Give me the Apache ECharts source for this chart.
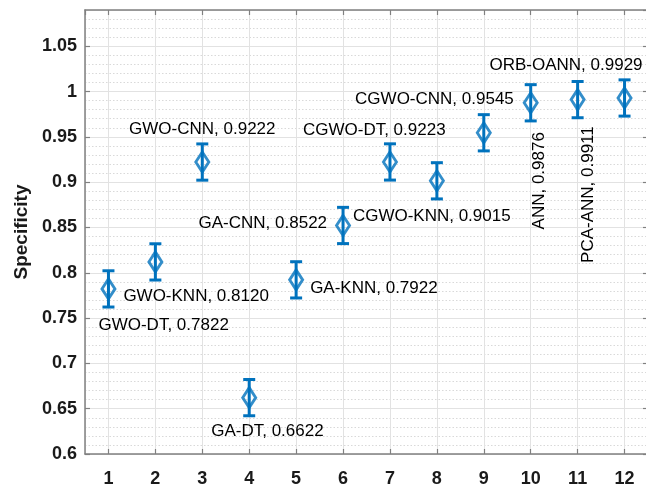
<!DOCTYPE html>
<html><head><meta charset="utf-8">
<script src="https://cdn.jsdelivr.net/npm/echarts@6/dist/echarts.min.js"></script>
<style>html,body{margin:0;padding:0;background:#fff}#c{width:646px;height:487px}</style>
</head><body><div id="c"></div>
<script>
// ---- data ----
const xPositions = [1, 2, 3, 4, 5, 6, 7, 8, 9, 10, 11, 12];
const methodNames = ['GWO-DT', 'GWO-KNN', 'GWO-CNN', 'GA-DT', 'GA-KNN', 'GA-CNN',
  'CGWO-DT', 'CGWO-KNN', 'CGWO-CNN', 'ANN', 'PCA-ANN', 'ORB-OANN'];
const specificity = [0.7822, 0.8120, 0.9222, 0.6622, 0.7922, 0.8522,
  0.9223, 0.9015, 0.9545, 0.9876, 0.9911, 0.9929];
const errorHalf = [0.02, 0.02, 0.02, 0.02, 0.02, 0.02, 0.02, 0.02, 0.02, 0.02, 0.02, 0.02];
const yTickMin = 0.6, yTickMax = 1.09, yTickStep = 0.05, yMinorStep = 0.01;
const xMin = 0.5, xMax = 12.5;

// ---- label placement (style only) ----
const labelLayout = [
  { align: 'left', offset: [-10, 36] },
  { align: 'left', offset: [-32, 34] },
  { align: 'center', offset: [0, -33] },
  { align: 'left', offset: [-38, 34] },
  { align: 'left', offset: [14, 8] },
  { align: 'right', offset: [-16, -2] },
  { align: 'left', offset: [-87, -32] },
  { align: 'left', offset: [-84, 36] },
  { align: 'right', offset: [30, -33] },
  { align: 'center', rotate: 90, offset: [-78, 9] },
  { align: 'center', rotate: 90, offset: [-95, 11] },
  { align: 'right', offset: [18, -33] }
];

const BLUE = '#0072BD';
const AXIS = '#808080';
const TXT = '#1a1a1a';
const FONT = '"Liberation Sans", Arial, Helvetica, sans-serif';

const chart = echarts.init(document.getElementById('c'), null, { renderer: 'canvas' });

const baseX = {
  type: 'value', min: xMin, max: xMax, splitNumber: 12
};
const option = {
  backgroundColor: '#fff',
  animation: false,
  grid: { left: 85, right: -2, top: 10, bottom: 33, outerBoundsMode: 'none', containLabel: false },
  xAxis: [
    Object.assign({}, baseX, {
      position: 'bottom',
      axisLine: { show: true, onZero: false, lineStyle: { color: AXIS, width: 1.5 } },
      axisTick: { show: true, inside: true, length: 5, lineStyle: { color: AXIS, width: 1.2 } },
      axisLabel: { showMinLabel: false, showMaxLabel: false, fontSize: 18, fontWeight: 'bold',
        color: TXT, margin: 16, fontFamily: FONT },
      splitLine: { show: true, lineStyle: { color: '#e2e2e2', width: 1 } }
    }),
    Object.assign({}, baseX, {
      position: 'top',
      axisLine: { show: true, onZero: false, lineStyle: { color: AXIS, width: 1.5 } },
      axisTick: { show: true, inside: true, length: 5, lineStyle: { color: AXIS, width: 1.2 } },
      axisLabel: { show: false },
      splitLine: { show: false }
    })
  ],
  yAxis: [
    {
      type: 'value', min: yTickMin, max: yTickMax, interval: yMinorStep, position: 'left',
      axisLine: { show: false }, axisTick: { show: false }, axisLabel: { show: false },
      splitLine: { show: true, lineStyle: { color: '#d9d9d9', width: 1, type: [1.5, 2] } }
    },
    {
      type: 'value', min: yTickMin, max: yTickMax, interval: yTickStep, position: 'left',
      name: 'Specificity', nameLocation: 'middle', nameGap: 48,
      nameTextStyle: { fontSize: 19, fontWeight: 'bold', color: TXT, fontFamily: FONT },
      axisLine: { show: true, onZero: false, lineStyle: { color: AXIS, width: 1.5 } },
      axisTick: { show: true, inside: true, length: 5, lineStyle: { color: AXIS, width: 1.2 } },
      axisLabel: { showMaxLabel: false, fontSize: 18, fontWeight: 'bold', color: TXT, fontFamily: FONT,
        margin: 8, formatter: v => String(+v.toFixed(2)) },
      splitLine: { show: true, lineStyle: { color: '#e2e2e2', width: 1 } }
    },
    {
      type: 'value', min: yTickMin, max: yTickMax, interval: yTickStep, position: 'right',
      axisLine: { show: true, onZero: false, lineStyle: { color: AXIS, width: 1.5 } },
      axisTick: { show: true, inside: true, length: 5, lineStyle: { color: AXIS, width: 1.2 } },
      axisLabel: { show: false }, splitLine: { show: false }
    }
  ],
  series: [
    {
      type: 'custom', xAxisIndex: 0, yAxisIndex: 1, z: 3,
      encode: { x: 0, y: [1, 2] },
      data: specificity.map((v, i) => [xPositions[i], v - errorHalf[i], v + errorHalf[i]]),
      renderItem: function (params, api) {
        const x = api.value(0);
        const lo = api.coord([x, api.value(1)]);
        const hi = api.coord([x, api.value(2)]);
        const cap = 6;
        const style = { stroke: BLUE, lineWidth: 3, fill: null };
        return {
          type: 'group', children: [
            { type: 'line', shape: { x1: lo[0], y1: lo[1], x2: hi[0], y2: hi[1] }, style: style },
            { type: 'line', shape: { x1: lo[0] - cap, y1: lo[1], x2: lo[0] + cap, y2: lo[1] }, style: style },
            { type: 'line', shape: { x1: hi[0] - cap, y1: hi[1], x2: hi[0] + cap, y2: hi[1] }, style: style }
          ]
        };
      }
    },
    {
      type: 'scatter', xAxisIndex: 0, yAxisIndex: 1, z: 4,
      symbol: 'diamond', symbolSize: [13, 20],
      itemStyle: { color: 'rgba(0,0,0,0)', borderColor: BLUE, borderWidth: 3 },
      emphasis: { disabled: true },
      data: specificity.map((v, i) => ({
        value: [xPositions[i], v],
        label: Object.assign({
          show: true, position: 'inside', verticalAlign: 'middle',
          fontSize: 17, color: '#000', opacity: 1, fontFamily: FONT, textBorderWidth: 0,
          formatter: methodNames[i] + ', ' + v.toFixed(4)
        }, labelLayout[i])
      }))
    }
  ]
};
chart.setOption(option);
</script></body></html>
